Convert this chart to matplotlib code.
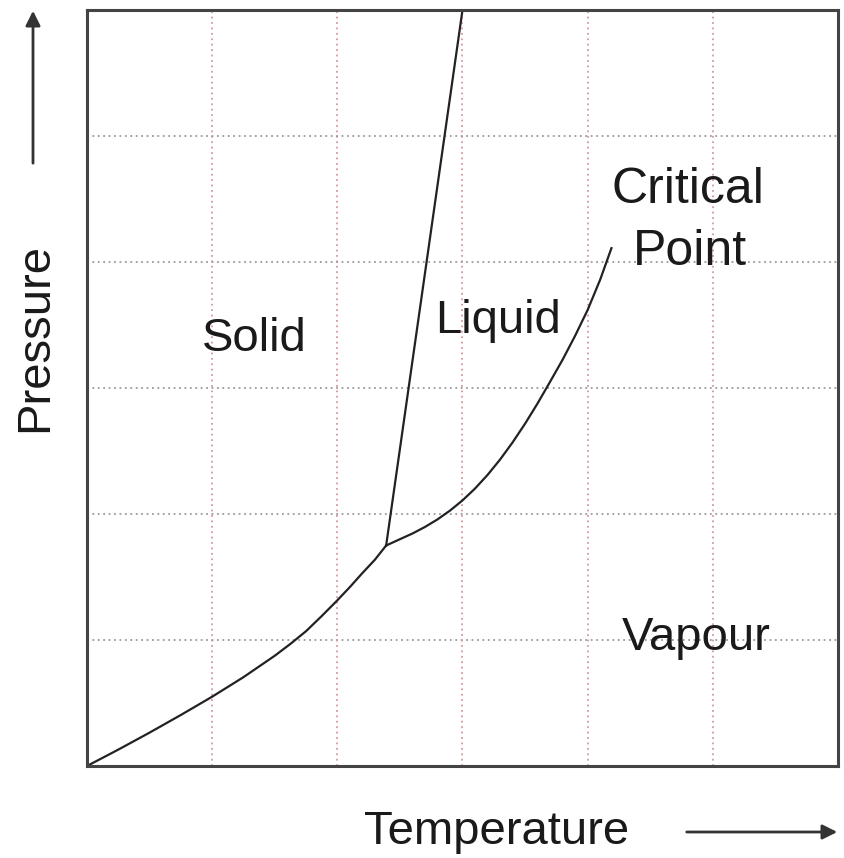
import matplotlib
matplotlib.use("Agg")
from matplotlib import pyplot as plt

plt.rcParams['font.family'] = ['Liberation Sans', 'DejaVu Sans']

# sublimation curve (solid / vapour)
sub_t = [0.0, 0.25, 0.5, 0.75, 1.0, 1.25, 1.5, 1.625, 1.75, 1.875, 2.0, 2.1, 2.2, 2.3, 2.39]
sub_p = [0.0, 0.13, 0.265, 0.405, 0.55, 0.705, 0.875, 0.969, 1.07, 1.19, 1.315, 1.42, 1.531, 1.637, 1.75]

# fusion line (solid / liquid)
fus_t = [2.39, 3.0]
fus_p = [1.75, 6.0]

# vaporisation curve up to the critical point
vap_t = [2.39, 2.5, 2.6, 2.7, 2.8, 2.9, 3.0, 3.1, 3.2, 3.3,
         3.4, 3.5, 3.6, 3.7, 3.8, 3.9, 4.0, 4.1, 4.19]
vap_p = [1.75, 1.80, 1.845, 1.897, 1.957, 2.027, 2.108, 2.202, 2.31, 2.432,
         2.568, 2.717, 2.878, 3.05, 3.225, 3.415, 3.62, 3.86, 4.11]

grid_ticks = [1, 2, 3, 4, 5]

fig = plt.figure(figsize=(8.45, 8.58), dpi=100)
ax = fig.add_axes([87 / 845, 92 / 858, 751 / 845, 756 / 858])

# dotted grid: reddish verticals, grey horizontals
for g in grid_ticks:
    ax.axvline(g, color='#d49a9a', lw=1.3, ls=(0, (1, 2)), zorder=0)
    ax.axhline(g, color='#9a9a9a', lw=1.3, ls=(0, (1, 2)), zorder=0)

ax.plot(sub_t, sub_p, color='#222222', lw=1.6)
ax.plot(fus_t, fus_p, color='#222222', lw=1.6)
ax.plot(vap_t, vap_p, color='#222222', lw=1.6)

ax.set_xlim(0, 6)
ax.set_ylim(0, 6)
ax.set_xticks([])
ax.set_yticks([])
for s in ax.spines.values():
    s.set_color('#444444')
    s.set_linewidth(2.2)

fs = 34
ax.text(1.334, 3.29, 'Solid', fontsize=fs, ha='center', va='baseline', color='#1a1a1a')
ax.text(3.283, 3.44, 'Liquid', fontsize=fs, ha='center', va='baseline', color='#1a1a1a')
ax.text(4.80, 4.47, 'Critical', fontsize=fs + 2, ha='center', va='baseline', color='#1a1a1a')
ax.text(4.816, 3.98, 'Point', fontsize=fs + 2, ha='center', va='baseline', color='#1a1a1a')
ax.text(4.864, 0.92, 'Vapour', fontsize=fs, ha='center', va='baseline', color='#1a1a1a')

# axis names with arrows
fig.text(35 / 845, 1 - 337 / 858, 'Pressure', fontsize=fs, rotation=90,
         ha='center', va='center', color='#1a1a1a')
fig.text(497 / 845, 1 - 832 / 858, 'Temperature', fontsize=fs,
         ha='center', va='center', color='#1a1a1a')

arrow = dict(arrowstyle='-|>', lw=2, color='#333333', mutation_scale=22)
fig.add_artist(matplotlib.patches.FancyArrowPatch(
    (33 / 845, 1 - 166 / 858), (33 / 845, 1 - 8 / 858),
    transform=fig.transFigure, **arrow))
fig.add_artist(matplotlib.patches.FancyArrowPatch(
    (684 / 845, 1 - 832 / 858), (840 / 845, 1 - 832 / 858),
    transform=fig.transFigure, **arrow))

fig.savefig('out.png', dpi=100)
